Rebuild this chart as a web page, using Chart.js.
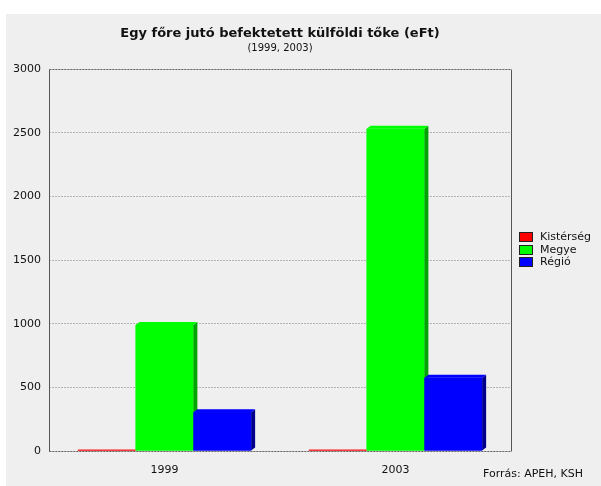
<!DOCTYPE html>
<html><head><meta charset="utf-8">
<script src="https://cdn.jsdelivr.net/npm/chart.js@4"></script>
<style>html,body{margin:0;padding:0;background:#fff;} canvas{display:block;}</style>
</head><body>
<canvas id="c" width="601" height="486"></canvas>
<script>
const categories = ['1999', '2003'];
const seriesNames = ['Kistérség', 'Megye', 'Régió'];
const kisterseg = [10, 10];
const megye = [990, 2530];
const regio = [305, 575];
const yTickValues = [0, 500, 1000, 1500, 2000, 2500, 3000];
const seriesColors = ['#ff0000', '#00ff00', '#0000ff'];
const sideColors = ['#a00000', '#00a400', '#00008c'];
const titleText = 'Egy főre jutó befektetett külföldi tőke (eFt)';
const subtitleText = '(1999, 2003)';
const sourceText = 'Forrás: APEH, KSH';

const FONT = '"DejaVu Sans", sans-serif';
const DX = 4, DY = 3;

const decor = {
  id: 'decor',
  beforeDraw(chart) {
    const ctx = chart.ctx;
    ctx.save();
    ctx.fillStyle = '#efefef';
    ctx.fillRect(6, 14, chart.width - 6, chart.height - 14);
    ctx.restore();
  },
  beforeDatasetsDraw(chart) {
    const ctx = chart.ctx;
    const a = chart.chartArea;
    const L = Math.round(a.left) + 0.5, R = Math.round(a.right) + 0.5;
    const T = Math.round(a.top) + 0.5, B = Math.round(a.bottom) + 0.5;
    ctx.save();
    ctx.lineWidth = 1;
    ctx.setLineDash([2, 1]);
    ctx.strokeStyle = '#666';
    ctx.beginPath(); ctx.moveTo(L, B); ctx.lineTo(R, B); ctx.stroke();
    ctx.beginPath(); ctx.moveTo(L, T); ctx.lineTo(R, T); ctx.stroke();
    ctx.restore();
  },
  afterDatasetsDraw(chart) {
    const ctx = chart.ctx;
    const a = chart.chartArea;
    ctx.save();
    chart.data.datasets.forEach((ds, i) => {
      const meta = chart.getDatasetMeta(i);
      meta.data.forEach(el => {
        const p = el.getProps(['x', 'y', 'base', 'width'], true);
        const l = p.x - p.width / 2, r = p.x + p.width / 2;
        const top = Math.min(p.y, p.base), bot = Math.max(p.y, p.base);
        ctx.fillStyle = seriesColors[i];
        ctx.fillRect(l, top, r - l, bot - top);
        if (bot - top < 3) return;
        ctx.fillStyle = sideColors[i];
        ctx.beginPath();
        ctx.moveTo(r, top); ctx.lineTo(r + DX, top - DY); ctx.lineTo(r + DX, bot - DY); ctx.lineTo(r, bot);
        ctx.closePath(); ctx.fill();
        ctx.fillStyle = seriesColors[i];
        ctx.beginPath();
        ctx.moveTo(l, top); ctx.lineTo(l + DX, top - DY); ctx.lineTo(r + DX, top - DY); ctx.lineTo(r, top);
        ctx.closePath(); ctx.fill();
      });
    });
    const L = Math.round(a.left) + 0.5, R = Math.round(a.right) + 0.5;
    const T = Math.round(a.top) + 0.5, B = Math.round(a.bottom) + 0.5;
    ctx.lineWidth = 1;
    ctx.strokeStyle = '#555';
    ctx.setLineDash([]);
    ctx.beginPath(); ctx.moveTo(L, T); ctx.lineTo(L, B); ctx.stroke();
    ctx.beginPath(); ctx.moveTo(R, T); ctx.lineTo(R, B); ctx.stroke();
    ctx.restore();
  },
  afterDraw(chart) {
    const ctx = chart.ctx;
    const a = chart.chartArea;
    const cx = (a.left + a.right) / 2;
    ctx.save();
    ctx.fillStyle = '#111';
    ctx.textAlign = 'center';
    ctx.textBaseline = 'alphabetic';
    ctx.font = 'bold 13px ' + FONT;
    ctx.fillText(titleText, cx, 37);
    ctx.font = '10px ' + FONT;
    ctx.fillText(subtitleText, cx, 51);
    ctx.font = '11px ' + FONT;
    ctx.textAlign = 'left';
    ctx.textBaseline = 'middle';
    chart.data.datasets.forEach((ds, i) => {
      const y = 232 + i * 12.5;
      ctx.fillStyle = ds.backgroundColor;
      ctx.fillRect(519, Math.round(y), 14, 10);
      ctx.strokeStyle = '#222';
      ctx.lineWidth = 1;
      ctx.strokeRect(519.5, Math.round(y) + 0.5, 13, 9);
      ctx.fillStyle = '#111';
      ctx.fillText(ds.label, 540, Math.round(y) + 5);
    });
    ctx.textAlign = 'right';
    ctx.fillText(sourceText, 583, 474);
    ctx.restore();
  }
};

new Chart(document.getElementById('c'), {
  type: 'bar',
  data: {
    labels: categories,
    datasets: [
      { label: seriesNames[0], data: kisterseg, backgroundColor: seriesColors[0] },
      { label: seriesNames[1], data: megye, backgroundColor: seriesColors[1] },
      { label: seriesNames[2], data: regio, backgroundColor: seriesColors[2] }
    ]
  },
  options: {
    responsive: false,
    animation: false,
    devicePixelRatio: 1,
    layout: { padding: { left: 0, right: 90, top: 69, bottom: 0 } },
    categoryPercentage: 0.75,
    barPercentage: 1,
    plugins: { legend: { display: false }, title: { display: false }, tooltip: { enabled: false } },
    scales: {
      x: {
        grid: { display: false },
        border: { display: false },
        ticks: { color: '#111', font: { family: FONT, size: 11 }, padding: 5 },
        afterFit(s) { s.height = 35; }
      },
      y: {
        min: 0, max: 3000,
        afterBuildTicks(s) { s.ticks = yTickValues.map(v => ({ value: v })); },
        grid: { color: '#b4b4b4', drawTicks: false },
        border: { display: false, dash: [2, 1] },
        ticks: { color: '#111', font: { family: FONT, size: 11 }, padding: 8, callback: v => String(v) },
        afterFit(s) { s.width = 49; }
      }
    }
  },
  plugins: [decor]
});
</script>
</body></html>
